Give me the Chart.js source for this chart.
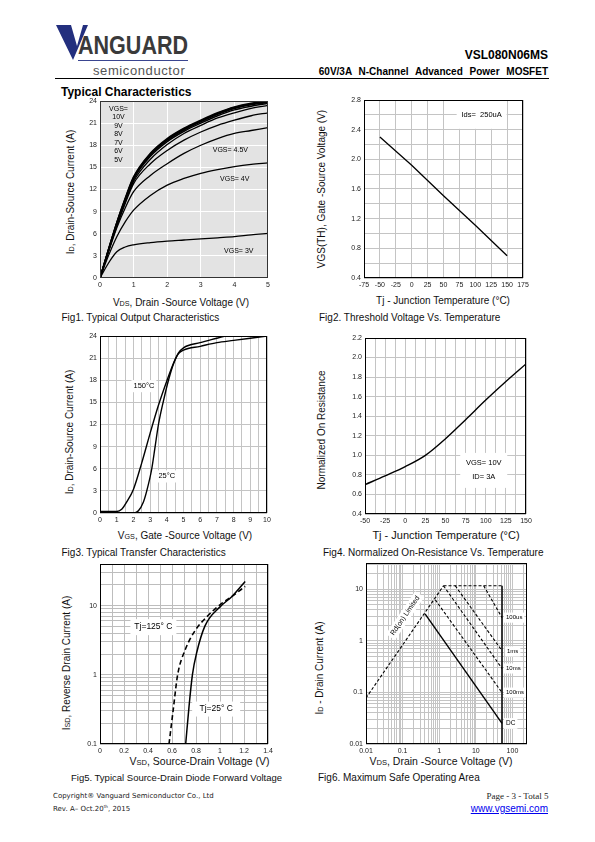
<!DOCTYPE html>
<html>
<head>
<meta charset="utf-8">
<script src="https://cdn.jsdelivr.net/npm/chart.js@4.4.0/dist/chart.umd.min.js"></script>
<style>
body{margin:0;background:#fff;}
#page{position:relative;width:595px;height:842px;overflow:hidden;font-family:"Liberation Sans",Arial,sans-serif;color:#000;}
.t{position:absolute;white-space:nowrap;line-height:1;}
.s{font-size:72%;}
canvas{position:absolute;}
</style>
</head>
<body>
<div id="page">
<svg style="position:absolute;left:0;top:0" width="595" height="100">
  <polygon points="56,25 71,25 77,46 83,25 88,25 73,60" fill="#232f7e"/>
  <line x1="78" y1="60.5" x2="188" y2="60.5" stroke="#3a4590" stroke-width="1"/>
  <line x1="55" y1="78.5" x2="549" y2="78.5" stroke="#000" stroke-width="1"/>
</svg>
</div>
<script>
// ---- Fig1: output characteristics (VDS, ID per VGS)
const fig1Vds  = [0, 0.25, 0.5, 0.75, 1, 1.5, 2, 2.5, 3, 3.5, 4, 4.5, 5];
const fig1Id10 = [0, 3.8, 7.5, 10.8, 13.7, 16.9, 18.9, 20.3, 21.4, 22.4, 23.2, 23.7, 24.0];
const fig1Id9  = [0, 3.8, 7.5, 10.7, 13.6, 16.8, 18.8, 20.2, 21.3, 22.3, 23.1, 23.6, 23.9];
const fig1Id8  = [0, 3.8, 7.4, 10.6, 13.5, 16.7, 18.7, 20.1, 21.2, 22.2, 23.0, 23.5, 23.8];
const fig1Id7  = [0, 3.7, 7.3, 10.5, 13.4, 16.5, 18.5, 19.9, 21.0, 22.0, 22.8, 23.3, 23.7];
const fig1Id6  = [0, 3.7, 7.2, 10.3, 13.1, 16.1, 18.1, 19.6, 20.7, 21.7, 22.4, 23.0, 23.4];
const fig1Id5  = [0, 3.6, 7.0, 10.1, 12.8, 15.5, 17.3, 18.7, 19.8, 20.7, 21.4, 22.0, 22.4];
const fig1Id45 = [0, 3.5, 6.8, 9.5, 11.7, 13.9, 15.5, 16.9, 18.0, 18.9, 19.6, 20.0, 20.4];
const fig1Id4  = [0, 3.0, 5.6, 7.6, 9.2, 11.2, 12.6, 13.5, 14.2, 14.7, 15.1, 15.4, 15.6];
const fig1Id3  = [0, 2.0, 3.55, 4.2, 4.5, 4.8, 5.0, 5.15, 5.3, 5.45, 5.6, 5.85, 6.05];
const fig1XLabels = ['0', '1', '2', '3', '4', '5'];
const fig1YLabels = ['0', '3', '6', '9', '12', '15', '18', '21', '24'];

// ---- Fig2: threshold voltage vs temperature
const fig2Tj  = [-50, 0, 50, 100, 150];
const fig2Vth = [2.30, 1.92, 1.51, 1.11, 0.70];
const fig2XLabels = ['-75', '-50', '-25', '0', '25', '50', '75', '100', '125', '150', '175'];
const fig2YLabels = ['0.4', '0.8', '1.2', '1.6', '2.0', '2.4', '2.8'];

// ---- Fig3: transfer characteristics
const fig3Vgs150 = [0, 1, 1.3, 1.6, 2, 2.5, 3, 3.5, 4, 4.4, 4.7, 5, 6, 7, 7.5];
const fig3Id150  = [0.2, 0.2, 0.5, 1.5, 3.2, 6.8, 10.8, 14.6, 17.9, 20.3, 21.7, 22.4, 23.1, 23.7, 24];
const fig3Vgs25  = [0, 2, 2.3, 2.6, 2.8, 3.1, 3.3, 3.5, 3.8, 4.1, 4.4, 4.7, 5, 6, 7, 8, 9, 10];
const fig3Id25   = [0, 0, 0.3, 1.5, 3, 6, 9, 12, 15.2, 18, 20.2, 21.6, 22.1, 22.6, 23.1, 23.4, 23.7, 24];
const fig3XLabels = ['0', '1', '2', '3', '4', '5', '6', '7', '8', '9', '10'];
const fig3YLabels = ['0', '3', '6', '9', '12', '15', '18', '21', '24'];

// ---- Fig4: normalized on-resistance vs temperature
const fig4Tj  = [-50, -25, 0, 25, 50, 75, 100, 125, 150];
const fig4Rds = [0.70, 0.79, 0.885, 1.0, 1.17, 1.365, 1.565, 1.755, 1.935];
const fig4XLabels = ['-50', '-25', '0', '25', '50', '75', '100', '125', '150'];
const fig4YLabels = ['0.4', '0.6', '0.8', '1.0', '1.2', '1.4', '1.6', '1.8', '2.0', '2.2'];

// ---- Fig5: source-drain diode forward voltage
const fig5Vsd125 = [0.575, 0.61, 0.647, 0.71, 0.79, 0.89, 1.0, 1.1, 1.21];
const fig5Isd125 = [0.1, 0.31, 1.0, 2.3, 4.3, 6.9, 10.3, 13.6, 19.0];
const fig5Vsd25  = [0.714, 0.742, 0.77, 0.806, 0.875, 1.0, 1.1, 1.21];
const fig5Isd25  = [0.1, 0.35, 1.0, 2.1, 5.1, 9.6, 13.6, 22.4];
const fig5XLabels = ['0', '0.2', '0.4', '0.6', '0.8', '1', '1.2', '1.4'];
const fig5YLabels = ['0.1', '1', '10'];

// ---- Fig6: safe operating area
const fig6RdsV   = [0.01, 1.31];   const fig6RdsI   = [0.078, 11.6];
const fig6TopV   = [1.31, 52];     const fig6TopI   = [11.6, 11.6];
const fig6EdgeV  = [52, 52];       const fig6EdgeI  = [11.6, 0.01];
const fig6P100usV = [16.4, 52];    const fig6P100usI = [11.6, 2.8];
const fig6P1msV   = [2.74, 52];    const fig6P1msI   = [11.6, 0.64];
const fig6P10msV  = [1.31, 52];    const fig6P10msI  = [11.6, 0.29];
const fig6P100msV = [0.78, 52];    const fig6P100msI = [6.2, 0.099];
const fig6DcV     = [0.41, 52];    const fig6DcI     = [3.3, 0.025];
const fig6XLabels = ['0.01', '0.1', '1', '10', '100'];
const fig6YLabels = ['0.01', '0.1', '1', '10'];

const page = document.getElementById('page');
Chart.defaults.font.family = '"Liberation Sans", Arial, sans-serif';

const PL = 34, PT = 8, PR = 14, PB = 16;

function steps(a, b, s) {
  return Array.from({ length: Math.round((b - a) / s) + 1 }, (_, i) => +(a + i * s).toFixed(6));
}
function logGrid(e0, e1, top) {
  const out = [];
  for (let e = e0; e <= e1; e++) for (let m = 1; m <= 9; m++) {
    const v = +(m * Math.pow(10, e)).toPrecision(6);
    if (v <= top) out.push(v);
  }
  return out;
}

function txt(html, x, base, size, o = {}) {
  const d = document.createElement('div');
  d.className = 't';
  d.innerHTML = html;
  d.style.fontSize = size + 'px';
  d.style.top = (base - 0.846 * size) + 'px';
  if (o.align === 'right') d.style.right = (595 - x) + 'px';
  else d.style.left = x + 'px';
  if (o.align === 'center') d.style.transform = 'translateX(-50%)';
  if (o.bold) d.style.fontWeight = 'bold';
  if (o.font) d.style.fontFamily = o.font;
  if (o.color) d.style.color = o.color;
  if (o.css) Object.assign(d.style, o.css);
  page.appendChild(d);
  return d;
}
function vtxt(html, cx, cy, size) {
  const d = document.createElement('div');
  d.className = 't';
  d.innerHTML = html;
  d.style.fontSize = size + 'px';
  d.style.left = cx + 'px';
  d.style.top = cy + 'px';
  d.style.color = '#111';
  d.style.transform = 'translate(-50%,-50%) rotate(-90deg)';
  page.appendChild(d);
}

function axis(spec, pos, gridColor) {
  const vals = spec.labels.map(Number);
  return {
    type: spec.type || 'linear',
    min: spec.min, max: spec.max,
    afterBuildTicks: s => { s.ticks = spec.grid.map(v => ({ value: v })); },
    afterFit: s => { if (pos === 'x') s.height = PB; else s.width = PL; },
    ticks: {
      autoSkip: false, maxRotation: 0, minRotation: 0,
      padding: 3,
      color: '#222',
      font: { size: 7 },
      callback: v => {
        const i = vals.findIndex(l => Math.abs(l - v) < 1e-6 * Math.max(Math.abs(l), 1e-3));
        return i < 0 ? '' : spec.labels[i];
      }
    },
    grid: { color: gridColor, lineWidth: 1, drawTicks: false },
    border: { display: false }
  };
}

function line(xs, ys, o = {}) {
  return {
    data: xs.map((x, i) => ({ x, y: ys[i] })),
    showLine: true, fill: false, pointRadius: 0,
    borderColor: '#000', borderWidth: o.w || 1.3,
    borderDash: o.dash || [],
    cubicInterpolationMode: o.smooth ? 'monotone' : 'default',
    tension: 0
  };
}

function decor(bg, notes, frame) {
  return {
    id: 'decor',
    beforeDraw(ch) {
      const a = ch.chartArea, c = ch.ctx;
      c.save();
      c.fillStyle = bg;
      c.fillRect(a.left, a.top, a.right - a.left, a.bottom - a.top);
      c.restore();
    },
    afterDraw(ch) {
      const a = ch.chartArea, c = ch.ctx, sx = ch.scales.x, sy = ch.scales.y;
      notes.forEach(n => {
        const size = n.size || 7;
        const lh = n.lh || size * 1.35;
        const lines = n.t.split('\n');
        c.save();
        c.translate(sx.getPixelForValue(n.x) + (n.dx || 0), sy.getPixelForValue(n.y) + (n.dy || 0));
        if (n.rot) c.rotate(n.rot * Math.PI / 180);
        c.font = size + 'px "Liberation Sans", Arial';
        c.textAlign = n.align || 'center';
        c.textBaseline = 'middle';
        if (n.box) {
          const tw = Math.max(...lines.map(l => c.measureText(l).width));
          const bw = n.box === true ? tw + 4 : n.box[0];
          const bh = n.box === true ? lines.length * lh + 2 : n.box[1];
          c.fillStyle = '#fff';
          c.fillRect(n.align === 'left' ? -2 : -bw / 2, -bh / 2, bw, bh);
        }
        c.fillStyle = '#000';
        lines.forEach((l, i) => c.fillText(l, 0, (i - (lines.length - 1) / 2) * lh));
        c.restore();
      });
      c.save();
      c.strokeStyle = frame;
      c.lineWidth = 1;
      c.strokeRect(a.left + 0.5, a.top + 0.5, a.right - a.left - 1, a.bottom - a.top - 1);
      c.restore();
    }
  };
}

function plot(rect, xs, ys, datasets, look) {
  const [l, t, r, b] = rect;
  const w = (r - l) + PL + PR, h = (b - t) + PT + PB;
  const cv = document.createElement('canvas');
  cv.width = w; cv.height = h;
  cv.style.left = (l - PL) + 'px'; cv.style.top = (t - PT) + 'px';
  cv.style.width = w + 'px'; cv.style.height = h + 'px';
  page.appendChild(cv);
  return new Chart(cv, {
    type: 'scatter',
    data: { datasets },
    options: {
      responsive: false, animation: false, devicePixelRatio: 1,
      layout: { padding: { top: PT, right: PR, left: 0, bottom: 0 }, autoPadding: false },
      plugins: { legend: { display: false }, tooltip: { enabled: false } },
      scales: { x: axis(xs, 'x', look.grid), y: axis(ys, 'y', look.grid) }
    },
    plugins: [decor(look.bg, look.notes || [], look.frame || '#000')]
  });
}

// ---- header / footer text
const logo = txt('ANGUARD', 78, 53.5, 26, { bold: true, color: '#3a3a3a', css: { transformOrigin: '0 0' } });
logo.style.transform = 'scaleX(' + (110 / logo.getBoundingClientRect().width).toFixed(3) + ')';
txt('semiconductor', 93, 75, 13, { color: '#555', css: { letterSpacing: '0.6px' } });
txt('VSL080N06MS', 548, 59, 12, { align: 'right', bold: true });
txt('60V/3A N-Channel Advanced Power MOSFET', 548, 75.5, 10, { align: 'right', bold: true, css: { wordSpacing: '4px' } });
txt('Typical Characteristics', 61, 96, 12, { bold: true });
txt('Copyright® Vanguard Semiconductor Co., Ltd', 53, 798.5, 7, { font: '"DejaVu Sans", sans-serif', color: '#222' });
txt('Rev. A– Oct.20<sup style="font-size:60%">th</sup>, 2015', 53, 811, 7, { font: '"DejaVu Sans", sans-serif', color: '#222' });
txt('Page - 3 - Total 5', 548.5, 800, 9, { align: 'right', font: '"Liberation Serif", serif', color: '#222' });
txt('www.vgsemi.com', 548, 812, 10, { align: 'right', color: '#0000ee', css: { textDecoration: 'underline' } });

// ---- axis titles and captions
vtxt('I<span class="s">D</span>, Drain-Source Current (A)', 70.5, 191.5, 10);
txt('V<span class="s">DS</span>, Drain -Source Voltage (V)', 181, 306, 10, { align: 'center', color: '#111' });
txt('Fig1. Typical Output Characteristics', 61.5, 321, 10, { color: '#111' });

vtxt('VGS(TH), Gate -Source Voltage (V)', 321.5, 189, 10);
txt('Tj - Junction Temperature (°C)', 443, 304.5, 10, { align: 'center', color: '#111' });
txt('Fig2. Threshold Voltage Vs. Temperature', 319, 321, 10, { color: '#111' });

vtxt('I<span class="s">D</span>, Drain-Source Current (A)', 70, 432, 10);
txt('V<span class="s">GS</span>, Gate -Source Voltage (V)', 185, 539.5, 10, { align: 'center', color: '#111' });
txt('Fig3. Typical Transfer Characteristics', 61.5, 556, 10, { color: '#111' });

vtxt('Normalized On Resistance', 321.5, 430, 10);
txt('Tj - Junction Temperature (°C)', 446, 539, 11, { align: 'center', color: '#111' });
txt('Fig4. Normalized On-Resistance Vs. Temperature', 323, 556, 10, { color: '#111' });

vtxt('I<span class="s">SD</span>, Reverse Drain Current (A)', 66.5, 662.5, 10);
txt('V<span class="s">SD</span>, Source-Drain Voltage (V)', 199.5, 765, 10.5, { align: 'center', color: '#111' });
txt('Fig5. Typical Source-Drain Diode Forward Voltage', 71, 781, 9.5, { color: '#111' });

vtxt('I<span class="s">D</span> - Drain Current (A)', 320, 667.5, 10);
txt('V<span class="s">DS</span>, Drain -Source Voltage (V)', 441, 765, 10.5, { align: 'center', color: '#111' });
txt('Fig6. Maximum Safe Operating Area', 318, 781, 10, { color: '#111' });

// ---- Fig1
plot([100, 101, 268, 278],
  { min: 0, max: 5, grid: steps(0, 5, 1), labels: fig1XLabels },
  { min: 0, max: 24, grid: steps(0, 24, 3), labels: fig1YLabels },
  [
    line(fig1Vds, fig1Id10, { smooth: true, w: 1.6 }),
    line(fig1Vds, fig1Id9, { smooth: true, w: 1.6 }),
    line(fig1Vds, fig1Id8, { smooth: true, w: 1.6 }),
    line(fig1Vds, fig1Id7, { smooth: true, w: 1.5 }),
    line(fig1Vds, fig1Id6, { smooth: true, w: 1.3 }),
    line(fig1Vds, fig1Id5, { smooth: true, w: 1.3 }),
    line(fig1Vds, fig1Id45, { smooth: true, w: 1.3 }),
    line(fig1Vds, fig1Id4, { smooth: true, w: 1.3 }),
    line(fig1Vds, fig1Id3, { smooth: true, w: 1.3 })
  ],
  { bg: '#e3e3e3', grid: '#ffffff', frame: '#333',
    notes: [
      { x: 0.55, y: 22.9, t: 'VGS=' }, { x: 0.55, y: 21.8, t: '10V' }, { x: 0.55, y: 20.6, t: '9V' },
      { x: 0.55, y: 19.5, t: '8V' }, { x: 0.55, y: 18.3, t: '7V' }, { x: 0.55, y: 17.2, t: '6V' },
      { x: 0.55, y: 16.0, t: '5V' },
      { x: 3.88, y: 17.3, t: 'VGS= 4.5V' }, { x: 4.01, y: 13.4, t: 'VGS= 4V' }, { x: 4.13, y: 3.65, t: 'VGS= 3V' }
    ] });

// ---- Fig2
plot([364, 100, 523, 278],
  { min: -75, max: 175, grid: steps(-75, 175, 25), labels: fig2XLabels },
  { min: 0.4, max: 2.8, grid: steps(0.4, 2.8, 0.2), labels: fig2YLabels },
  [line(fig2Tj, fig2Vth, { w: 1.3 })],
  { bg: '#ffffff', grid: '#c4c4c4',
    notes: [{ x: 110, y: 2.6, t: 'Ids=  250uA', box: [50, 28], size: 7.5 }] });

// ---- Fig3
plot([100, 336, 267, 513],
  { min: 0, max: 10, grid: steps(0, 10, 0.5), labels: fig3XLabels },
  { min: 0, max: 24, grid: steps(0, 24, 3), labels: fig3YLabels },
  [line(fig3Vgs150, fig3Id150, { smooth: true, w: 1.4 }), line(fig3Vgs25, fig3Id25, { smooth: true, w: 1.4 })],
  { bg: '#ffffff', grid: '#c4c4c4',
    notes: [
      { x: 2.63, y: 17.2, t: '150°C', box: true, size: 7.5 },
      { x: 4.0, y: 4.96, t: '25°C', box: true, size: 7.5 }
    ] });

// ---- Fig4
plot([365, 338, 526, 514],
  { min: -50, max: 150, grid: steps(-50, 150, 12.5), labels: fig4XLabels },
  { min: 0.4, max: 2.2, grid: steps(0.4, 2.2, 0.2), labels: fig4YLabels },
  [line(fig4Tj, fig4Rds, { smooth: true, w: 1.4 })],
  { bg: '#ffffff', grid: '#c4c4c4',
    notes: [{ x: 97.5, y: 0.846, t: 'VGS= 10V\nID= 3A', box: [47, 35], size: 7.5, lh: 14 }] });

// ---- Fig5
plot([100, 564, 268, 744],
  { min: 0, max: 1.4, grid: steps(0, 1.4, 0.1), labels: fig5XLabels },
  { type: 'logarithmic', min: 0.1, max: 40, grid: logGrid(-1, 1, 40), labels: fig5YLabels },
  [line(fig5Vsd125, fig5Isd125, { smooth: true, w: 1.6, dash: [5, 3] }), line(fig5Vsd25, fig5Isd25, { smooth: true, w: 1.5 })],
  { bg: '#ffffff', grid: '#bdbdbd',
    notes: [
      { x: 0.445, y: 4.89, t: 'Tj=125° C', box: [46, 16], size: 8.5 },
      { x: 0.968, y: 0.32, t: 'Tj=25° C', box: [48, 15], size: 8.5 }
    ] });

// ---- Fig6
plot([366, 563, 527, 744],
  { type: 'logarithmic', min: 0.01, max: 250, grid: logGrid(-2, 2, 200), labels: fig6XLabels },
  { type: 'logarithmic', min: 0.01, max: 32, grid: logGrid(-2, 1, 30), labels: fig6YLabels },
  [
    line(fig6RdsV, fig6RdsI, { dash: [3, 2], w: 1.1 }),
    line(fig6TopV, fig6TopI, { dash: [3, 2], w: 1.1 }),
    line(fig6EdgeV, fig6EdgeI, { w: 1.5 }),
    line(fig6P100usV, fig6P100usI, { dash: [3, 2], w: 1.1 }),
    line(fig6P1msV, fig6P1msI, { dash: [3, 2], w: 1.1 }),
    line(fig6P10msV, fig6P10msI, { dash: [3, 2], w: 1.1 }),
    line(fig6P100msV, fig6P100msI, { dash: [3, 2], w: 1.1 }),
    line(fig6DcV, fig6DcI, { w: 1.4 })
  ],
  { bg: '#ffffff', grid: '#c4c4c4',
    notes: [
      { x: 0.117, y: 3.05, t: 'Rd(on) Limited', rot: -55.7, box: [52, 11], size: 7 },
      { x: 52, y: 2.8, dx: 4, t: '100us', align: 'left', box: true, size: 6 },
      { x: 52, y: 0.62, dx: 5, t: '1ms', align: 'left', box: true, size: 6 },
      { x: 52, y: 0.29, dx: 4, t: '10ms', align: 'left', box: true, size: 6 },
      { x: 52, y: 0.099, dx: 4, t: '100ms', align: 'left', box: true, size: 6 },
      { x: 52, y: 0.025, dx: 4, t: 'DC', align: 'left', box: true, size: 6.5 }
    ] });
</script>
</body>
</html>
